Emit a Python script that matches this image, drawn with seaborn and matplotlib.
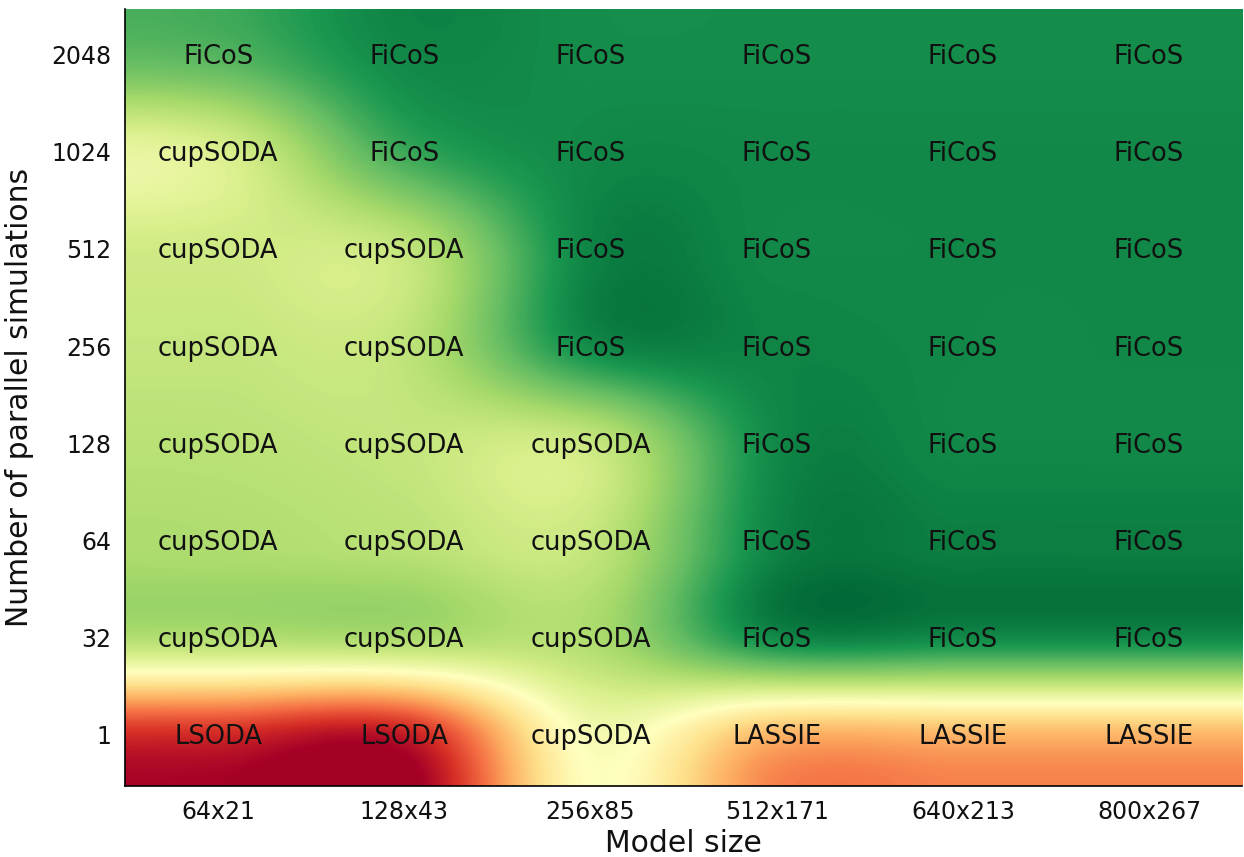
import matplotlib
matplotlib.use("Agg")
import matplotlib.pyplot as plt
import numpy as np
import pandas as pd
import seaborn as sns

model_sizes = ["64x21", "128x43", "256x85", "512x171", "640x213", "800x267"]
parallel_sims = ["2048", "1024", "512", "256", "128", "64", "32", "1"]

# relative performance score per cell (0 = slowest, 1 = fastest)
score_2048 = [0.82, 0.93, 0.92, 0.92, 0.92, 0.92]
score_1024 = [0.59, 0.85, 0.93, 0.93, 0.93, 0.93]
score_512 = [0.62, 0.64, 0.94, 0.93, 0.93, 0.93]
score_256 = [0.64, 0.65, 0.92, 0.94, 0.93, 0.93]
score_128 = [0.66, 0.64, 0.63, 0.93, 0.93, 0.93]
score_64 = [0.68, 0.66, 0.64, 0.94, 0.95, 0.95]
score_32 = [0.67, 0.68, 0.68, 0.92, 0.92, 0.92]
score_1 = [0.08, 0.05, 0.52, 0.31, 0.31, 0.31]

best_2048 = ["FiCoS"] * 6
best_1024 = ["cupSODA"] + ["FiCoS"] * 5
best_512 = ["cupSODA"] * 2 + ["FiCoS"] * 4
best_256 = ["cupSODA"] * 2 + ["FiCoS"] * 4
best_128 = ["cupSODA"] * 3 + ["FiCoS"] * 3
best_64 = ["cupSODA"] * 3 + ["FiCoS"] * 3
best_32 = ["cupSODA"] * 3 + ["FiCoS"] * 3
best_1 = ["LSODA", "LSODA", "cupSODA", "LASSIE", "LASSIE", "LASSIE"]

scores = pd.DataFrame(
    [score_2048, score_1024, score_512, score_256, score_128, score_64, score_32, score_1],
    index=parallel_sims, columns=model_sizes,
)
labels = np.array([best_2048, best_1024, best_512, best_256, best_128, best_64, best_32, best_1])

sns.set_style("white")
fig = plt.figure(figsize=(12.44, 8.57), dpi=100)
ax = fig.add_axes([0.1005, 0.083, 0.898, 0.907])

sns.heatmap(
    scores, annot=labels, fmt="", cmap="RdYlGn", vmin=0, vmax=1, cbar=False,
    annot_kws={"fontsize": 18.5, "color": "black"}, ax=ax,
)
# smooth the cells like the original figure
ax.imshow(
    scores.values, cmap="RdYlGn", vmin=0, vmax=1, interpolation="catrom",
    extent=(0, len(model_sizes), len(parallel_sims), 0), aspect="auto", zorder=1.5,
)
ax.set_xlim(0, len(model_sizes))
ax.set_ylim(len(parallel_sims), 0)
for t in ax.texts:
    t.set_color("#111111")

ax.tick_params(axis="both", length=0, labelsize=17, pad=10, labelcolor="#111111")
ax.set_yticklabels(parallel_sims, rotation=0)
ax.set_xticklabels(model_sizes, rotation=0)
ax.set_xlabel("Model size", fontsize=21.5, labelpad=4, color="#111111")
ax.set_ylabel("Number of parallel simulations", fontsize=21.5, labelpad=12, color="#111111")

for side in ["left", "bottom"]:
    ax.spines[side].set_visible(True)
    ax.spines[side].set_color("black")
    ax.spines[side].set_linewidth(1.2)

plt.savefig("out.png", dpi=100)
plt.close(fig)
